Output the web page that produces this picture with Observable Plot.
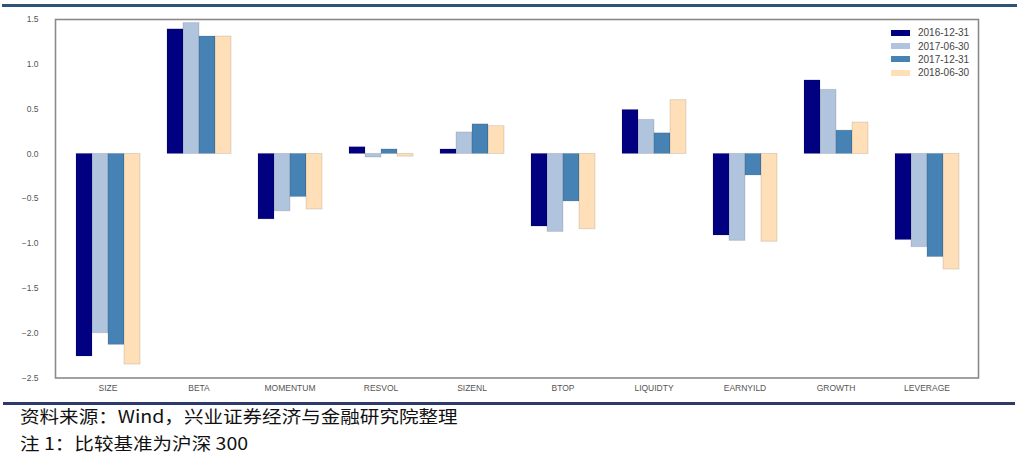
<!DOCTYPE html>
<html>
<head>
<meta charset="utf-8">
<script src="https://cdn.jsdelivr.net/npm/d3@7"></script>
<script src="https://cdn.jsdelivr.net/npm/@observablehq/plot@0.6"></script>
<style>
  html, body { margin: 0; padding: 0; background: #fff; }
  #wrap { position: relative; width: 1017px; height: 468px; overflow: hidden; }
  #band { position: absolute; left: 2px; right: 0; top: 4px; height: 3px; background: #2c5478; }
  #chart, #overlay { position: absolute; left: 0; top: 0; }
  #overlay { pointer-events: none; }
  #legend { position: absolute; left: 891px; top: 26px; font: 10px "Liberation Sans", Arial, sans-serif; color: #444; }
  #legend .row { display: flex; align-items: center; height: 13.4px; }
  #legend .sw { width: 19px; height: 6px; margin-right: 8px; box-sizing: border-box; }
  #rule { position: absolute; left: 3px; width: 1012px; top: 402px; height: 2.5px; background: #2d3a6c; }
  .cap { position: absolute; left: 20px; font-family: "Noto Sans CJK SC", sans-serif; font-size: 17px; color: #111; white-space: nowrap; transform: scaleX(1.15); transform-origin: left center; line-height: 20px; }
</style>
</head>
<body>
<div id="wrap">
  <div id="band"></div>
  <div id="chart"></div>
  <div id="overlay"></div>
  <div id="legend"></div>
  <div id="rule"></div>
  <div class="cap" id="cap1" style="top:406px"></div>
  <div class="cap" id="cap2" style="top:433px"></div>
</div>
<script>
const categories = ["SIZE", "BETA", "MOMENTUM", "RESVOL", "SIZENL", "BTOP", "LIQUIDTY", "EARNYILD", "GROWTH", "LEVERAGE"];
const series = ["2016-12-31", "2017-06-30", "2017-12-31", "2018-06-30"];
const v20161231 = [-2.26, 1.39, -0.73, 0.075, 0.05, -0.81, 0.49, -0.91, 0.82, -0.96];
const v20170630 = [-2.00, 1.46, -0.64, -0.04, 0.24, -0.87, 0.38, -0.97, 0.715, -1.04];
const v20171231 = [-2.13, 1.31, -0.48, 0.05, 0.33, -0.53, 0.23, -0.24, 0.26, -1.15];
const v20180630 = [-2.35, 1.31, -0.62, -0.03, 0.31, -0.84, 0.60, -0.98, 0.35, -1.29];
const yTicks = [-2.5, -2.0, -1.5, -1.0, -0.5, 0.0, 0.5, 1.0, 1.5];
const colors = ["#000080", "#b0c4de", "#4682b4", "#ffdfb8"];
const caption1 = "资料来源：Wind，兴业证券经济与金融研究院整理";
const caption2 = "注 1：比较基准为沪深 300";

const valuesBySeries = [v20161231, v20170630, v20171231, v20180630];
const data = [];
categories.forEach((c, i) => {
  series.forEach((s, j) => data.push({category: c, series: s, value: valuesBySeries[j][i]}));
});

const fmt = d3.format(".1f");
const W = 1017, H = 400, mT = 19, mB = 22.5, mL = 55, mR = 39;
const yDomain = [-2.5, 1.5];
const font = {fontFamily: "'Liberation Sans', Arial, sans-serif", fontSize: "8.5px", color: "#555", background: "transparent"};

// bars, grouped by category (facets)
const chart = Plot.plot({
  width: W, height: H, marginTop: mT, marginBottom: mB, marginLeft: mL, marginRight: mR,
  style: font,
  fx: {domain: categories, paddingInner: 0.29, paddingOuter: 0.215, label: null, axis: "bottom", tickSize: 0, tickPadding: 7},
  x: {domain: series, padding: 0, axis: null},
  y: {domain: yDomain, axis: null},
  color: {domain: series, range: colors},
  marks: [
    Plot.barY(data, {fx: "category", x: "series", y: "value", fill: "series", stroke: "#000", strokeOpacity: 0.12, strokeWidth: 1})
  ]
});
document.getElementById("chart").appendChild(chart);

// y axis and plot frame over the whole plotting area
const overlay = Plot.plot({
  width: W, height: H, marginTop: mT, marginBottom: mB, marginLeft: mL, marginRight: mR,
  style: font,
  y: {domain: yDomain},
  marks: [
    Plot.axisY(yTicks, {tickSize: 0, tickPadding: 17, tickFormat: d => fmt(d).replace("-", "\u2212"), label: null, fill: "#555"}),
    Plot.frame({stroke: "#8a8a8a", strokeWidth: 1.6})
  ]
});
document.getElementById("overlay").appendChild(overlay);

const legend = document.getElementById("legend");
series.forEach((s, j) => {
  const row = document.createElement("div");
  row.className = "row";
  const sw = document.createElement("div");
  sw.className = "sw";
  sw.style.background = colors[j];
  const t = document.createElement("span");
  t.textContent = s;
  row.appendChild(sw);
  row.appendChild(t);
  legend.appendChild(row);
});
document.getElementById("cap1").textContent = caption1;
document.getElementById("cap2").textContent = caption2;
</script>
</body>
</html>
